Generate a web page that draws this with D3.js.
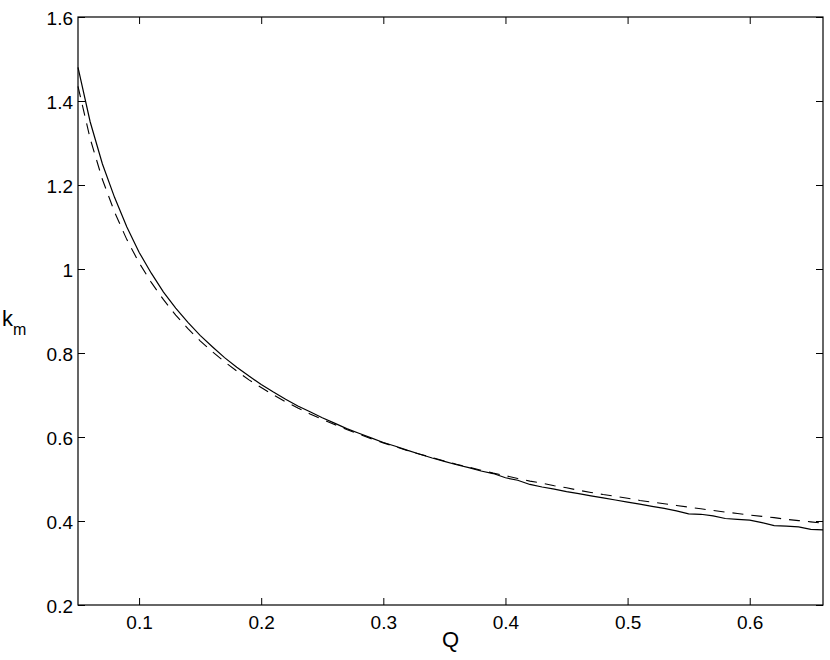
<!DOCTYPE html>
<html>
<head>
<meta charset="utf-8">
<script src="https://cdn.jsdelivr.net/npm/d3@7"></script>
<style>
  html, body { margin: 0; padding: 0; background: #fff; }
  svg { display: block; font-family: "Liberation Sans", Arial, Helvetica, sans-serif; }
</style>
</head>
<body>
<svg id="chart" width="830" height="660"></svg>
<script>
// ---- data ----
const Q = [0.05,0.06,0.07,0.08,0.09,0.10,0.11,0.12,0.13,0.14,0.15,0.16,0.17,0.18,0.19,0.20,
  0.21,0.22,0.23,0.24,0.25,0.26,0.27,0.28,0.29,0.30,0.31,0.32,0.33,0.34,0.35,0.36,0.37,0.38,
  0.39,0.40,0.41,0.42,0.43,0.44,0.45,0.46,0.47,0.48,0.49,0.50,0.51,0.52,0.53,0.54,0.55,0.56,
  0.57,0.58,0.59,0.60,0.61,0.62,0.63,0.64,0.65,0.66];
const kmSolid = [1.480,1.350,1.250,1.170,1.100,1.040,0.990,0.945,0.907,0.873,0.842,0.815,0.789,
  0.766,0.745,0.725,0.707,0.690,0.674,0.660,0.646,0.633,0.620,0.609,0.598,0.587,0.578,0.568,
  0.559,0.550,0.542,0.534,0.527,0.519,0.513,0.503,0.497,0.487,0.481,0.476,0.470,0.465,0.460,
  0.455,0.450,0.445,0.440,0.435,0.430,0.424,0.417,0.416,0.412,0.406,0.404,0.402,0.396,0.389,
  0.388,0.386,0.380,0.379];
const kmDashed = [1.435,1.310,1.213,1.135,1.070,1.015,0.968,0.927,0.890,0.858,0.829,0.803,0.779,
  0.757,0.736,0.718,0.700,0.684,0.669,0.655,0.642,0.630,0.618,0.607,0.596,0.586,0.577,0.567,
  0.559,0.551,0.543,0.535,0.528,0.521,0.514,0.508,0.501,0.495,0.490,0.484,0.479,0.473,0.468,
  0.463,0.459,0.454,0.449,0.445,0.441,0.437,0.433,0.429,0.425,0.421,0.418,0.414,0.411,0.408,
  0.404,0.401,0.398,0.395];
const xTicks = [0.1,0.2,0.3,0.4,0.5,0.6];
const yTicks = [0.2,0.4,0.6,0.8,1.0,1.2,1.4,1.6];
const xLabel = "Q";
const yLabel = "k";
const yLabelSub = "m";

// ---- layout ----
const svg = d3.select("#chart");
const L = 78, R = 823, T = 17, B = 605;
const x = d3.scaleLinear().domain([0.05, 0.66]).range([L, R]);
const y = d3.scaleLinear().domain([0.2, 1.6]).range([B, T]);
const tickLen = 7;
const fmt = d => (d === 1 ? "1" : d3.format(".1f")(d));

// curves
const line = (vals) => d3.line().x((d, i) => x(Q[i])).y(d => y(d))(vals);
svg.append("path").attr("d", line(kmDashed))
  .attr("fill", "none").attr("stroke", "#000").attr("stroke-width", 1.1)
  .attr("stroke-dasharray", "11,8");
svg.append("path").attr("d", line(kmSolid))
  .attr("fill", "none").attr("stroke", "#000").attr("stroke-width", 1.2);

// axes (inward ticks, MATLAB style box)
const gb = svg.append("g").attr("transform", `translate(0,${B})`)
  .call(d3.axisBottom(x).tickValues(xTicks).tickSizeInner(-tickLen).tickSizeOuter(0).tickPadding(12).tickFormat(fmt));
const gt = svg.append("g").attr("transform", `translate(0,${T})`)
  .call(d3.axisTop(x).tickValues(xTicks).tickSizeInner(-tickLen).tickSizeOuter(0).tickFormat(""));
const gl = svg.append("g").attr("transform", `translate(${L},0)`)
  .call(d3.axisLeft(y).tickValues(yTicks).tickSizeInner(-tickLen).tickSizeOuter(0).tickPadding(12).tickFormat(fmt));
const gr = svg.append("g").attr("transform", `translate(${R},0)`)
  .call(d3.axisRight(y).tickValues(yTicks).tickSizeInner(-tickLen).tickSizeOuter(0).tickFormat(""));

[gb, gt, gl, gr].forEach(g => {
  g.select(".domain").remove();
  g.selectAll("line").attr("stroke", "#000").attr("stroke-width", 1);
  g.selectAll("text").attr("fill", "#000").style("font-size", "19px")
    .style("font-family", "'Liberation Sans', Arial, Helvetica, sans-serif");
});
gl.selectAll("text").attr("x", -5).attr("dy", "0.42em");
gb.selectAll("text").attr("dy", "0.71em").attr("y", 11);

// frame
svg.append("rect").attr("x", L).attr("y", T).attr("width", R - L).attr("height", B - T)
  .attr("fill", "none").attr("stroke", "#000").attr("stroke-width", 1.2);

// axis titles
svg.append("text").attr("x", (L + R) / 2).attr("y", 647).attr("text-anchor", "middle")
  .style("font-size", "22px").text(xLabel);
const yl = svg.append("text").attr("x", 2).attr("y", 326).style("font-size", "22px");
yl.append("tspan").text(yLabel);
yl.append("tspan").attr("dy", 9).style("font-size", "16px").text(yLabelSub);
</script>
</body>
</html>
